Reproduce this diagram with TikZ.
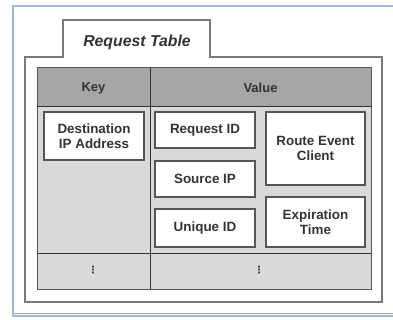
\documentclass[tikz,border=0pt]{standalone}
\usepackage{fontspec}
\setmainfont{Liberation Sans}
\newfontfamily\symfont{DejaVu Sans}
\definecolor{framebl}{HTML}{9DB6E3}
\definecolor{tabline}{HTML}{7A7A7A}
\definecolor{headfill}{HTML}{A6A6A6}
\definecolor{bodyfill}{HTML}{D9D9D9}
\definecolor{txt}{HTML}{333333}
\definecolor{edge}{HTML}{555555}
\tikzset{
  field/.style={draw=edge, fill=white, line width=1.2pt, text=txt,
    font=\fontsize{13.4}{15}\selectfont\bfseries, align=center, inner sep=0pt},
  headtxt/.style={text=txt, font=\fontsize{13}{14}\selectfont\bfseries},
  ellip/.style={text=txt, font=\symfont\fontsize{10}{10}\selectfont\bfseries, inner sep=0pt}
}
\begin{document}
\begin{tikzpicture}[x=1pt,y=-1pt]
\useasboundingbox (0,0) rectangle (393,320);
% window frame
\fill[white] (13,6) rectangle (393,316);
\draw[framebl, line width=1.5pt] (393,6) -- (13,6) -- (13,316) -- (393,316);
\draw[gray!70, line width=1pt] (14,313.5) -- (393,313.5);
% tab outline
\draw[tabline, line width=1.6pt, line join=miter]
  (25,302) -- (25,57) -- (63,57) -- (63,20) -- (210,20) -- (210,57)
  -- (382,57) -- (382,302) -- cycle;
\node[text=txt, font=\fontsize{15.8}{16}\selectfont\bfseries\itshape] (title) at (137,42) {Request Table};
% table body
\fill[bodyfill] (37,68) rectangle (371,289);
\fill[headfill] (37,68) rectangle (371,107);
\draw[edge, line width=1pt] (37,68) rectangle (371,289);
\draw[black!80, line width=1pt] (37,107) -- (371,107);
\draw[black!80, line width=1pt] (37,253) -- (371,253);
\draw[black!80, line width=1pt] (150,68) -- (150,289);
\node[headtxt] (key) at (93.5,88) {Key};
\node[headtxt] (value) at (260.5,88) {Value};
% fields
\node[field, minimum width=100pt, minimum height=48pt] (dest) at (94,136) {Destination\\IP Address};
\node[field, minimum width=100pt, minimum height=36pt] (reqid) at (205,130) {Request ID};
\node[field, minimum width=100pt, minimum height=36pt] (srcip) at (205,179) {Source IP};
\node[field, minimum width=100pt, minimum height=38pt] (uniq) at (205,228) {Unique ID};
\node[field, minimum width=99pt, minimum height=73pt] (route) at (315.5,148.5) {Route Event\\Client};
\node[field, minimum width=99pt, minimum height=50pt] (expire) at (315.5,222) {Expiration\\Time};
% continuation marks
\node[ellip] (moreK) at (93,270) {\char"22EE};
\node[ellip] (moreV) at (259,270) {\char"22EE};
\end{tikzpicture}
\end{document}
